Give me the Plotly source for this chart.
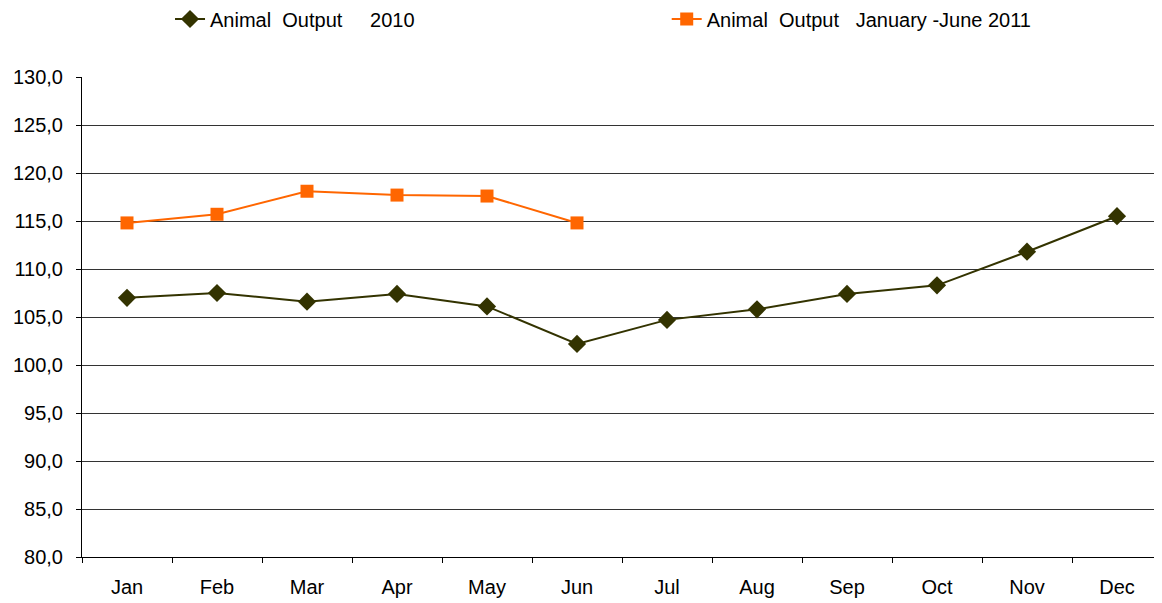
import plotly.graph_objects as go

months = ["Jan", "Feb", "Mar", "Apr", "May", "Jun", "Jul", "Aug", "Sep", "Oct", "Nov", "Dec"]
output_2010 = [107.0, 107.5, 106.6, 107.4, 106.1, 102.2, 104.7, 105.8, 107.4, 108.3, 111.8, 115.5]
months_2011 = ["Jan", "Feb", "Mar", "Apr", "May", "Jun"]
output_2011 = [114.8, 115.7, 118.1, 117.7, 117.6, 114.8]

name_2010 = "Animal\u00a0\u00a0Output\u00a0\u00a0\u00a0\u00a0\u00a02010"
name_2011 = "Animal\u00a0\u00a0Output\u00a0\u00a0\u00a0January\u00a0-June\u00a02011"

W, H, OFF = 1162, 603, 8  # page body has an 8px default margin

fig = go.Figure()
fig.add_trace(go.Scatter(
    x=months, y=output_2010, name=name_2010, mode="lines+markers",
    line=dict(color="#333300", width=2),
    marker=dict(symbol="diamond", size=14, color="#333300"),
    legend="legend",
))
fig.add_trace(go.Scatter(
    x=months_2011, y=output_2011, name=name_2011, mode="lines+markers",
    line=dict(color="#FF6600", width=2),
    marker=dict(symbol="square", size=13, color="#FF6600"),
    legend="legend2",
))

LEG_Y = 1 - (19 - OFF) / (H - OFF)

fig.update_layout(
    width=W - OFF, height=H - OFF,
    margin=dict(l=82 - OFF, r=0, t=77 - OFF, b=46, autoexpand=False),
    paper_bgcolor="white", plot_bgcolor="white",
    font=dict(family="Liberation Sans, Arial, sans-serif", size=20, color="#000000"),
    separators=",.",
    showlegend=True,
    legend=dict(x=0.0815, y=LEG_Y, xref="paper", yref="container",
                xanchor="left", yanchor="middle",
                font=dict(size=20), bgcolor="rgba(0,0,0,0)", itemwidth=30),
    legend2=dict(x=0.5414, y=LEG_Y, xref="paper", yref="container",
                 xanchor="left", yanchor="middle",
                 font=dict(size=20), bgcolor="rgba(0,0,0,0)", itemwidth=30),
    xaxis=dict(
        type="category", categoryorder="array", categoryarray=months,
        range=[-0.5, 11.5], showline=True, linecolor="#000000", linewidth=1,
        ticks="outside", tickson="boundaries", ticklen=5, tickcolor="#000000",
        showgrid=False, zeroline=False, tickfont=dict(size=20), automargin=False,
        ticklabelstandoff=12,
    ),
    yaxis=dict(
        range=[80, 130], dtick=5, tickformat=".1f",
        showline=True, linecolor="#000000", linewidth=1,
        ticks="outside", ticklen=5, tickcolor="#000000",
        showgrid=True, gridcolor="#333333", gridwidth=1, zeroline=False,
        tickfont=dict(size=20), automargin=False, ticklabelstandoff=9,
    ),
)

fig.write_html("out.html")
